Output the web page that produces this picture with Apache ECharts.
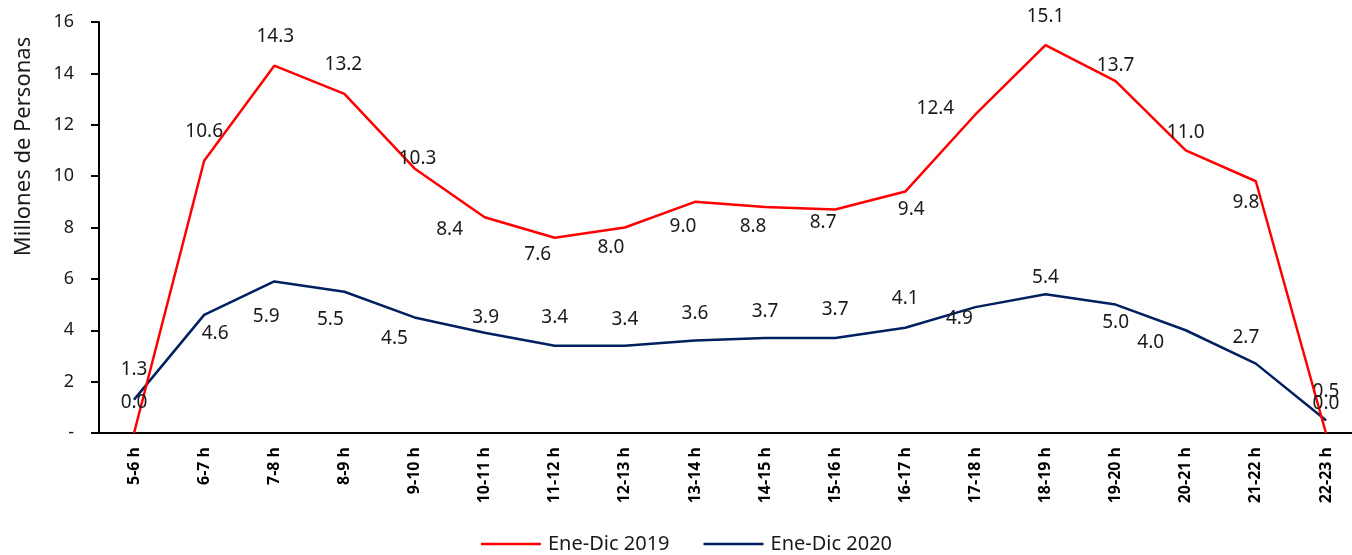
<!DOCTYPE html>
<html lang="es">
<head>
    <meta charset="UTF-8">
    <title>Millones de Personas por hora</title>
    <script src="https://cdn.jsdelivr.net/npm/echarts@6/dist/echarts.min.js"></script>
    <style>
        html, body { margin: 0; padding: 0; background: #fff; }
        #chart { width: 1352px; height: 555px; }
    </style>
</head>
<body>
    <div id="chart"></div>
    <script>
        // categorias (franjas horarias)
        var horas = ['5-6 h', '6-7 h', '7-8 h', '8-9 h', '9-10 h', '10-11 h', '11-12 h', '12-13 h', '13-14 h',
            '14-15 h', '15-16 h', '16-17 h', '17-18 h', '18-19 h', '19-20 h', '20-21 h', '21-22 h', '22-23 h'];
        // millones de personas
        var ene2019 = [0.0, 10.6, 14.3, 13.2, 10.3, 8.4, 7.6, 8.0, 9.0, 8.8, 8.7, 9.4, 12.4, 15.1, 13.7, 11.0, 9.8, 0.0];
        var ene2020 = [1.3, 4.6, 5.9, 5.5, 4.5, 3.9, 3.4, 3.4, 3.6, 3.7, 3.7, 4.1, 4.9, 5.4, 5.0, 4.0, 2.7, 0.5];
        var yTicks = [0, 2, 4, 6, 8, 10, 12, 14, 16];

        // desplazamiento de etiquetas (px) respecto al punto
        var off2019 = [[0, -30], [0, -29], [1, -29], [-1, -29], [3, -10], [-35, 12], [-17, 17], [-14, 20], [-12, 25],
            [-12, 20], [-12, 13], [6, 18], [-40, -6], [0, -29], [0, -15], [0, -18], [-10, 21], [0, -29]];
        var off2020 = [[0, -30], [11, 19], [-8, 35], [-14, 28], [-20, 21], [1, -15], [0, -28], [0, -26], [0, -27],
            [0, -26], [0, -28], [0, -29], [-16, 11], [0, -17], [0, 18], [-35, 12], [-10, -26], [0, -29]];

        var font = '"Noto Sans", sans-serif';

        function build(values, offsets) {
            return values.map(function (v, i) {
                return { value: v, label: { offset: offsets[i] } };
            });
        }

        var lbl = {
            show: true,
            position: 'inside',
            color: '#1a1a1a',
            fontFamily: font,
            fontSize: 19,
            formatter: function (p) { return p.value.toFixed(1); }
        };

        var myChart = echarts.init(document.getElementById('chart'));
        myChart.setOption({
            backgroundColor: '#ffffff',
            animation: false,
            grid: { left: 99, right: -9, top: 22, bottom: 122, outerBoundsMode: 'none', containLabel: false },
            legend: {
                bottom: -4,
                left: 476,
                icon: 'rect',
                itemWidth: 60,
                itemHeight: 2.5,
                itemGap: 34,
                textStyle: { fontFamily: font, fontSize: 20, color: '#1a1a1a', padding: [0, 0, 0, 2] },
                data: ['Ene-Dic 2019', 'Ene-Dic 2020']
            },
            xAxis: {
                type: 'category',
                data: horas,
                boundaryGap: true,
                axisLine: { lineStyle: { color: '#000', width: 2 } },
                axisTick: { show: false },
                axisLabel: {
                    rotate: 90,
                    interval: 0,
                    margin: 14,
                    color: '#000',
                    fontFamily: font,
                    fontWeight: 'bold',
                    fontSize: 16
                }
            },
            yAxis: {
                type: 'value',
                min: yTicks[0],
                max: yTicks[yTicks.length - 1],
                interval: 2,
                name: 'Millones de Personas',
                nameLocation: 'middle',
                nameGap: 64,
                nameTextStyle: { fontFamily: font, fontSize: 22, color: '#1a1a1a', padding: [0, 0, 0, 162] },
                splitLine: { show: false },
                axisLine: { show: true, lineStyle: { color: '#000', width: 2 } },
                axisTick: { show: true, length: 8, lineStyle: { color: '#000', width: 2 } },
                axisLabel: {
                    margin: 25,
                    color: '#1a1a1a',
                    fontFamily: font,
                    fontSize: 18,
                    formatter: function (v) { return v === 0 ? '-' : v; }
                }
            },
            series: [{
                name: 'Ene-Dic 2019',
                type: 'line',
                data: build(ene2019, off2019),
                symbol: 'circle',
                symbolSize: 1,
                itemStyle: { color: '#ff0000' },
                lineStyle: { color: '#ff0000', width: 2.5 },
                label: lbl,
                z: 3
            }, {
                name: 'Ene-Dic 2020',
                type: 'line',
                data: build(ene2020, off2020),
                symbol: 'circle',
                symbolSize: 1,
                itemStyle: { color: '#002060' },
                lineStyle: { color: '#002060', width: 2.5 },
                label: lbl,
                z: 2
            }]
        });
    </script>
</body>
</html>
